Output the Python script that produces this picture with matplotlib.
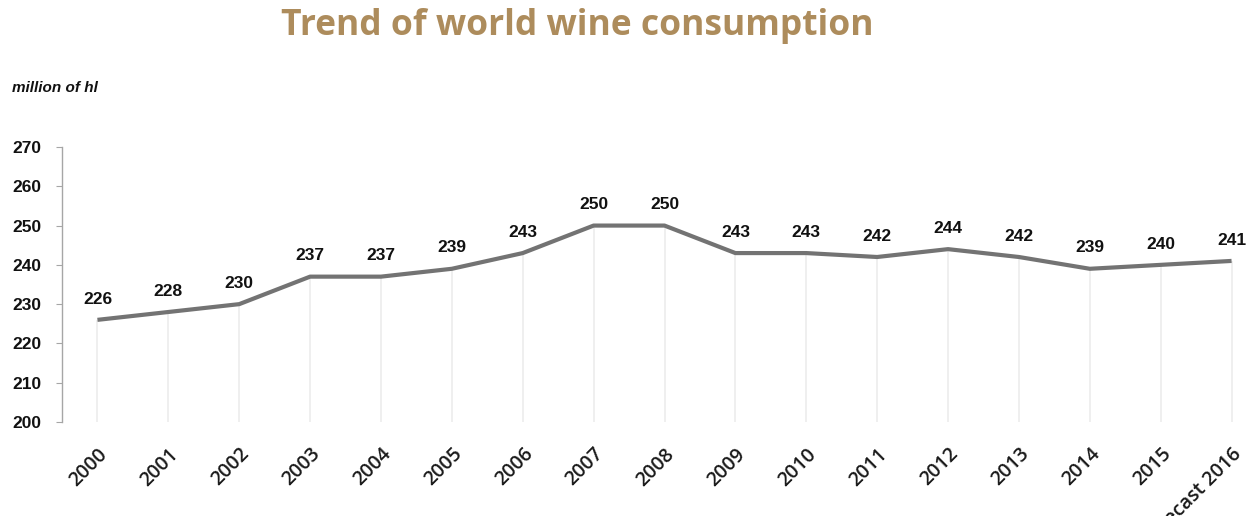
import matplotlib
matplotlib.use("Agg")
import matplotlib.pyplot as plt

years = ["2000", "2001", "2002", "2003", "2004", "2005", "2006", "2007", "2008",
         "2009", "2010", "2011", "2012", "2013", "2014", "2015", "Forecast 2016"]
consumption = [226, 228, 230, 237, 237, 239, 243, 250, 250,
               243, 243, 242, 244, 242, 239, 240, 241]
y_ticks = [200, 210, 220, 230, 240, 250, 260, 270]

W, H, DPI = 1256, 516, 100
fig = plt.figure(figsize=(W / DPI, H / DPI), dpi=DPI)
fig.patch.set_facecolor("white")

# axes box in pixel terms: left spine at x=62, y range 147..422
left, right = 62 / W, 1267 / W
bottom, top = 1 - 422 / H, 1 - 147 / H
ax = fig.add_axes([left, bottom, right - left, top - bottom])
ax.set_facecolor("none")

x = list(range(len(years)))

# faint drop lines from each point down to the base
ax.vlines(x, 200, consumption, colors="#ececec", linewidth=1.2, zorder=1)

ax.plot(x, consumption, color="#737373", linewidth=3.0, solid_joinstyle="round",
        solid_capstyle="butt", zorder=3)

for xi, v in zip(x, consumption):
    ax.annotate(str(v), (xi, v), xytext=(0, 15), textcoords="offset points",
                ha="center", va="center", fontsize=12.5, family="Liberation Sans",
                fontweight="bold", color="#111111")

ax.set_xlim(-0.5, len(years) - 0.5)
ax.set_ylim(200, 270)
ax.set_yticks(y_ticks)
ax.set_yticklabels([str(t) for t in y_ticks], fontsize=12.5,
                   family="Liberation Sans", fontweight="bold", color="#111111")
ax.set_xticks(x)
ax.set_xticklabels(years, rotation=45, ha="right", va="top", rotation_mode="anchor",
                   fontsize=14, family="Open Sans", fontweight="semibold",
                   color="#1a1a1a")

for s in ["top", "right", "bottom"]:
    ax.spines[s].set_visible(False)
ax.spines["left"].set_color("#a6a6a6")
ax.spines["left"].set_linewidth(1.0)
ax.tick_params(axis="y", length=4, color="#a6a6a6", pad=11)
ax.tick_params(axis="x", length=0, pad=16)

fig.text(577 / W, 1 - 26 / H, "Trend of world wine consumption", ha="center",
         va="center", fontsize=25.5, family="Open Sans", fontweight="bold",
         color="#ad8c5c")
fig.text(12 / W, 1 - 88 / H, "million of hl", ha="left", va="center",
         fontsize=11, family="Liberation Sans", style="italic",
         fontweight="bold", color="#111111")

fig.savefig("out.png", dpi=DPI, facecolor="white")
